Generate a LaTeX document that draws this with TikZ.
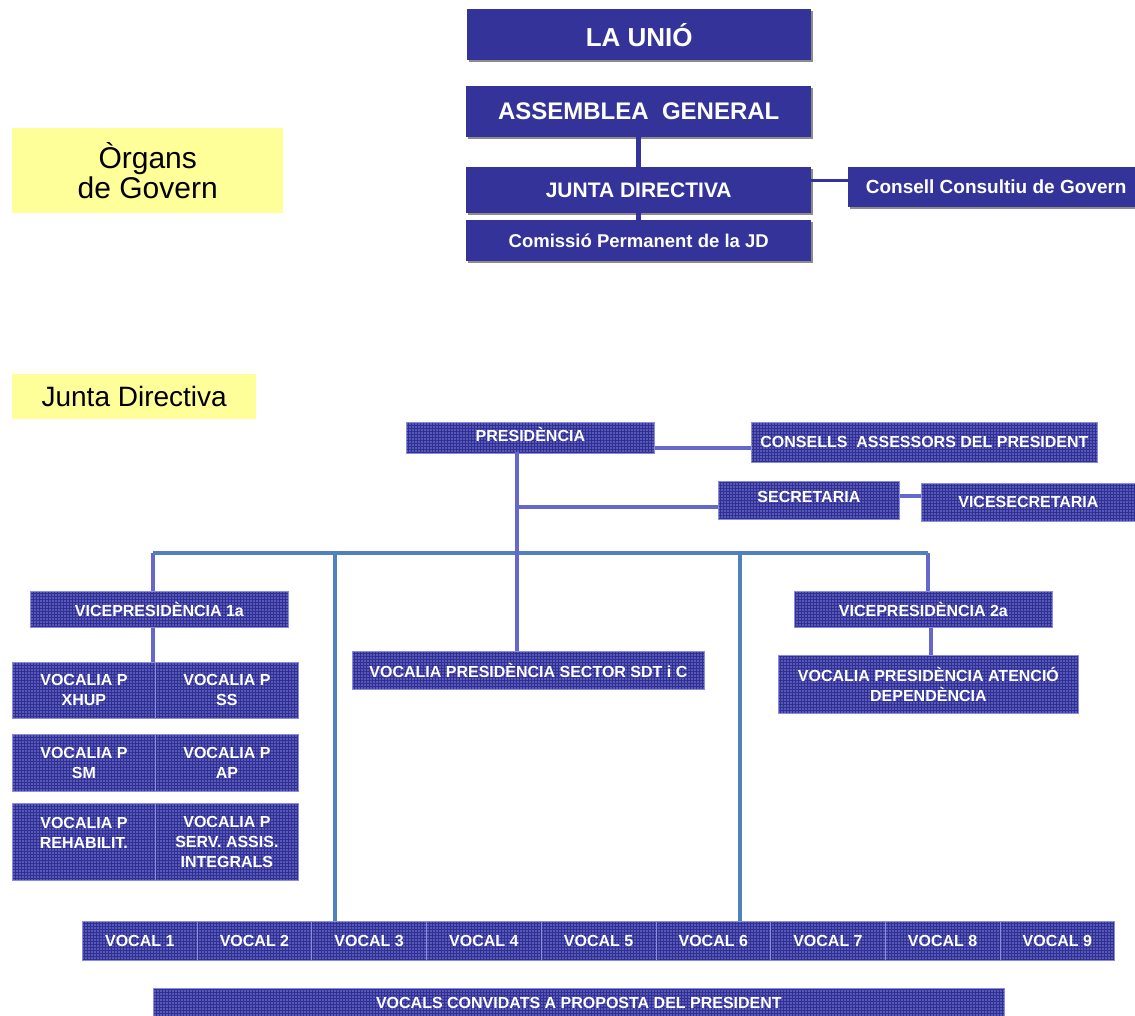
\documentclass[tikz,border=0pt]{standalone}
\usepackage{fontspec}
\setmainfont{Liberation Sans}
\usetikzlibrary{positioning,patterns}
\definecolor{topblue}{RGB}{51,51,153}
\definecolor{shadowgray}{RGB}{140,140,140}
\definecolor{noteyellow}{RGB}{255,255,153}
\definecolor{gridbase}{RGB}{88,88,182}
\definecolor{gridline}{RGB}{48,48,148}
\definecolor{gridedge}{RGB}{140,140,220}
\definecolor{linkpurple}{RGB}{102,102,204}
\definecolor{busblue}{RGB}{79,129,189}
\newcommand{\fsz}[2]{\fontsize{#1}{#2}\selectfont}
\tikzset{
topbox/.style = {fill=topblue, text=white, anchor=north west, inner sep=0pt,
  preaction={fill=shadowgray, transform canvas={shift={(2pt,-2pt)}}}},
note/.style = {fill=noteyellow, text=black, anchor=north west, inner sep=0pt, align=center},
gridbox/.style = {draw=gridedge, line width=0.8pt, preaction={fill=gridbase},
  pattern=grid, pattern color=gridline, text=white, font=\bfseries\fsz{16}{20},
  align=center, anchor=north west, inner sep=0pt},
toplink/.style = {draw=topblue, line width=5pt},
thinlink/.style = {draw=topblue, line width=3pt},
link/.style = {draw=linkpurple, line width=4pt},
bus/.style = {draw=busblue, line width=4.5pt}
}
\begin{document}
\begin{tikzpicture}[x=1pt, y=-1pt]
    \useasboundingbox (0,0) rectangle (1135,1016);
    % Organs de govern
    \node [note, minimum width=271pt, minimum height=85pt, font=\fsz{30}{30}] (organs) at (12,128) {Òrgans\\de Govern};
    \node [topbox, minimum width=344pt, minimum height=51pt, font=\bfseries\fsz{26}{30}] (unio) at (467,9) {LA UNIÓ};
    \node [topbox, minimum width=345pt, minimum height=51pt, font=\bfseries\fsz{24}{28}] (assemblea) at (466,86) {ASSEMBLEA\ \ GENERAL};
    \node [topbox, minimum width=345pt, minimum height=46pt, font=\bfseries\fsz{21}{25}] (junta) at (466,167) {JUNTA DIRECTIVA};
    \node [topbox, minimum width=345pt, minimum height=41pt, font=\bfseries\fsz{18.5}{22}] (comissio) at (466,220) {Comissió Permanent de la JD};
    \node [topbox, minimum width=296pt, minimum height=40pt, font=\bfseries\fsz{19}{22}] (consell) at (848,167) {Consell Consultiu de Govern};

    \draw [toplink] (assemblea.south) -- (junta.north);
    \draw [toplink] (junta.south) -- (comissio.north);
    \draw [thinlink] ([yshift=7pt]consell.west) -- ([yshift=7pt]consell.west -| junta.east);

    % Junta directiva
    \node [note, minimum width=244pt, minimum height=45pt, font=\fsz{28}{30}] (jdlabel) at (12,374) {Junta Directiva};
    \node [gridbox, minimum width=248pt, minimum height=31pt, text depth=6pt] (pres) at (406,422) {PRESIDÈNCIA};
    \node [gridbox, minimum width=346pt, minimum height=40pt] (consells) at (751,422) {CONSELLS\ \ ASSESSORS DEL PRESIDENT};
    \node [gridbox, minimum width=181pt, minimum height=38pt, text depth=6pt] (secr) at (718,481) {SECRETARIA};
    \node [gridbox, minimum width=214pt, minimum height=38pt] (vicesecr) at (921,483) {VICESECRETARIA};
    \node [gridbox, minimum width=258pt, minimum height=36pt] (vp1) at (30,591) {VICEPRESIDÈNCIA 1a};
    \node [gridbox, minimum width=258pt, minimum height=36pt] (vp2) at (794,591) {VICEPRESIDÈNCIA 2a};
    \node [gridbox, minimum width=352pt, minimum height=38pt] (sdt) at (352,651) {VOCALIA PRESIDÈNCIA SECTOR SDT i C};
    \node [gridbox, minimum width=300pt, minimum height=58pt] (atencio) at (778,655) {VOCALIA PRESIDÈNCIA ATENCIÓ\\DEPENDÈNCIA};
    \node [gridbox, minimum width=143pt, minimum height=56pt] (vxhup) at (12,662) {VOCALIA P\\XHUP};
    \node [gridbox, minimum width=143pt, minimum height=56pt] (vss) at (155,662) {VOCALIA P\\SS};
    \node [gridbox, minimum width=143pt, minimum height=57pt] (vsm) at (12,734) {VOCALIA P\\SM};
    \node [gridbox, minimum width=143pt, minimum height=57pt] (vap) at (155,734) {VOCALIA P\\AP};
    \node [gridbox, minimum width=143pt, minimum height=77pt, text depth=18pt] (vreh) at (12,803) {VOCALIA P\\REHABILIT.};
    \node [gridbox, minimum width=143pt, minimum height=77pt] (vserv) at (155,803) {VOCALIA P\\SERV. ASSIS.\\INTEGRALS};
    \foreach \i in {1,...,9}
        \node [gridbox, minimum width=114.7pt, minimum height=39pt] (vocal\i) at ({82+(\i-1)*114.7},921) {VOCAL \i};
    \node [gridbox, minimum width=851pt, minimum height=30pt] (convidats) at (153,988) {VOCALS CONVIDATS A PROPOSTA DEL PRESIDENT};

    % connectors
    \coordinate (trunk) at (517,452);
    \coordinate (presout) at ([yshift=-10pt]pres.east);
    \coordinate (secrin) at ([yshift=-7pt]secr.west);
    \coordinate (busL) at (153,553);
    \coordinate (busR) at (928,553);
    \coordinate (busA) at (335,553);
    \coordinate (busB) at (740,553);
    \draw [link] (presout) -- (presout -| consells.west);
    \draw [link] ([yshift=4pt]secr.east) -- ([yshift=4pt]secr.east -| vicesecr.west);
    \draw [link] (secrin) -- (trunk |- secrin);
    \draw [link] (busL) -- (busL |- vp1.north);
    \draw [link] (busR) -- (busR |- vp2.north);
    \draw [link] (busL |- vp1.south) -- (busL |- vxhup.north);
    \draw [link] ([xshift=8pt]vp2.south) -- ([xshift=8pt]vp2.south |- atencio.north);
    \draw [bus] (busL) -- (busR);
    \draw [bus] (busA) -- (busA |- vocal3.north);
    \draw [bus] (busB) -- (busB |- vocal6.north);
    \draw [link] (trunk) -- (trunk |- sdt.north);
\end{tikzpicture}
\end{document}
